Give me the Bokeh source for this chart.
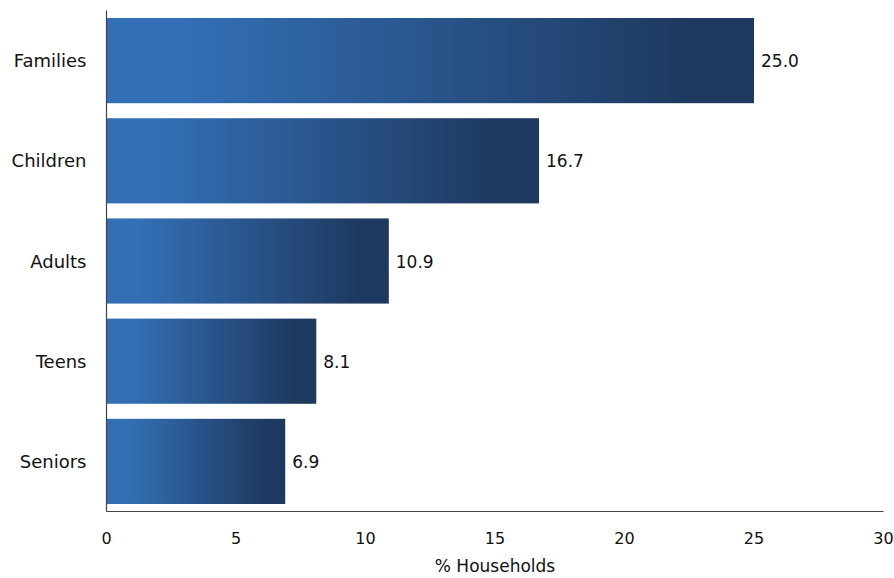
import numpy as np
from bokeh.plotting import figure
from bokeh.models import ColumnDataSource, LabelSet, FixedTicker
from bokeh.core.properties import value
from bokeh.embed import file_html
from bokeh.resources import INLINE

# Share of households by group
groups = ["Families", "Children", "Adults", "Teens", "Seniors"]
shares = [25.0, 16.7, 10.9, 8.1, 6.9]
x_ticks = [0, 5, 10, 15, 20, 25, 30]

FONT = "DejaVu Sans"
LIGHT = np.array([0x33, 0x6f, 0xb5], dtype=float)
DARK = np.array([0x1e, 0x39, 0x60], dtype=float)
N_STEPS = 400
BAR_H = 0.85

# numeric row positions, top row first
ypos = list(range(len(groups), 0, -1))


def gradient_row():
    # light blue held at the start, a linear blend, then navy at the end
    t = (np.arange(N_STEPS) + 0.5) / N_STEPS
    t = np.clip((t - 0.12) / 0.78, 0, 1)[:, None]
    rgb = np.round(LIGHT + (DARK - LIGHT) * t).astype(np.uint32)
    packed = (255 << 24) | (rgb[:, 2] << 16) | (rgb[:, 1] << 8) | rgb[:, 0]
    return packed.reshape(1, N_STEPS)


p = figure(
    width=894, height=578,
    y_range=(0.5, len(groups) + 0.5),
    x_range=(0, 30),
    output_backend="svg", toolbar_location=None,
    min_border_left=106, min_border_right=11,
    min_border_top=10, min_border_bottom=66,
)

# each bar is an image strip stretched over its extent: a horizontal gradient
row = gradient_row()
p.image_rgba(image=[row] * len(groups), x=[0] * len(groups),
             y=[y - BAR_H / 2 for y in ypos], dw=shares,
             dh=[BAR_H] * len(groups))

src = ColumnDataSource(dict(y=ypos, x=shares, txt=[f"{v:.1f}" for v in shares]))
p.add_layout(LabelSet(x="x", y="y", text="txt", source=src, x_offset=7,
                      text_baseline="middle", text_font=value(FONT),
                      text_font_size="17px", text_color="#111111"))

p.grid.visible = False
p.outline_line_color = None

p.xaxis.ticker = x_ticks
p.yaxis.ticker = FixedTicker(ticks=ypos)
p.yaxis.major_label_overrides = {y: g for y, g in zip(ypos, groups)}

p.xaxis.axis_label = "% Households"
p.xaxis.axis_label_text_font = FONT
p.xaxis.axis_label_text_font_style = "normal"
p.xaxis.axis_label_text_font_size = "17px"
p.xaxis.axis_label_text_color = "#111111"
p.xaxis.axis_label_standoff = 9
p.xaxis.major_label_standoff = 14

for ax in (p.xaxis, p.yaxis):
    ax.major_tick_line_color = None
    ax.minor_tick_line_color = None
    ax.axis_line_color = "#444444"
    ax.axis_line_width = 1.2
    ax.major_label_text_font = FONT
    ax.major_label_text_color = "#111111"

p.xaxis.major_label_text_font_size = "16px"
p.yaxis.major_label_text_font_size = "18px"
p.yaxis.major_label_standoff = 14

open("out.html", "w").write(file_html(p, INLINE))
